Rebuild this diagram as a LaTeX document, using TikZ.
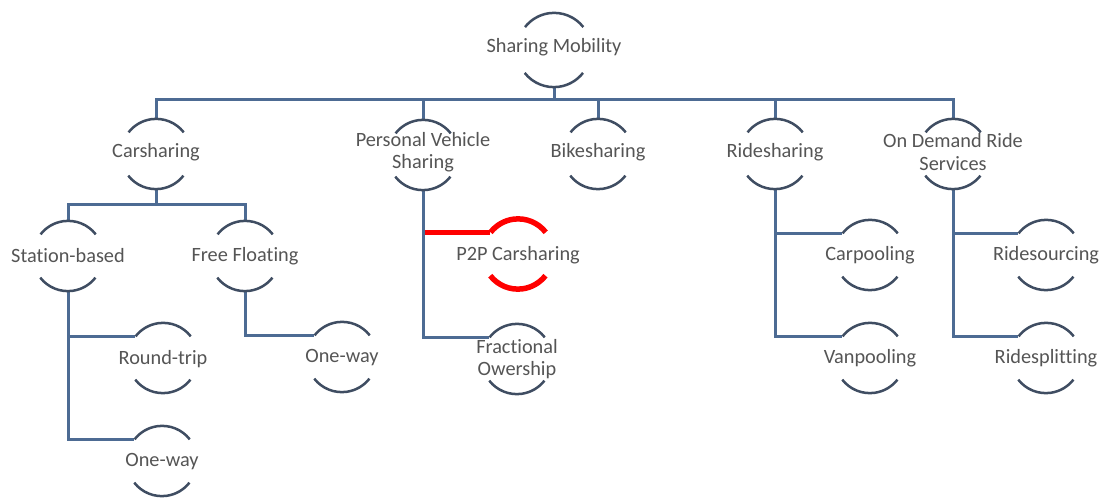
\documentclass[tikz,border=0pt]{standalone}
\usepackage{fontspec}
\setmainfont{Carlito}[RawFeature=-liga]
\definecolor{linec}{HTML}{4D6B93}
\definecolor{arcc}{HTML}{3F4D62}
\definecolor{txtc}{HTML}{555555}
\definecolor{hl}{HTML}{FF0000}
\tikzset{
  ring/.style={circle, minimum size=70pt, inner sep=0pt, draw=none},
  bigring/.style={circle, minimum size=74pt, inner sep=0pt, draw=none},
  lbl/.style={text=txtc, font=\fontsize{20.3}{22.5}\selectfont, align=center, inner sep=0pt},
  conn/.style={draw=linec, line width=3pt},
  arcline/.style={draw=arcc, line width=2.5pt},
  hlline/.style={draw=hl, line width=5.5pt},
}
\newcommand\ringarcs[3]{%
  \draw[#3] (#1.38) arc[start angle=38,end angle=142,radius=#2];
  \draw[#3] (#1.218) arc[start angle=218,end angle=322,radius=#2];
}
\begin{document}
\begin{tikzpicture}[x=1pt,y=1pt]
\useasboundingbox[fill=white] (0,0) rectangle (1102,-502);
% rings
\node[bigring] (sm) at (554,-50) {};
\node[ring] (cs) at (156,-154) {};
\node[ring] (pvs) at (423,-155) {};
\node[ring] (bs) at (598,-154) {};
\node[ring] (rs) at (775,-154) {};
\node[ring] (od) at (953,-154) {};
\node[ring] (sb) at (68,-256) {};
\node[ring] (ff) at (245,-256) {};
\node[ring] (p2p) at (518,-254) {};
\node[ring] (cp) at (870,-255) {};
\node[ring] (rsrc) at (1046,-255) {};
\node[ring] (rt) at (163,-358) {};
\node[ring] (ow1) at (162,-461) {};
\node[ring] (ow2) at (342,-357) {};
\node[ring] (fo) at (517,-359) {};
\node[ring] (vp) at (870,-358) {};
\node[ring] (rspl) at (1046,-358) {};
% labels
\node[lbl] (sm-t) at ([yshift=3pt]sm) {Sharing Mobility};
\node[lbl] (cs-t) at ([yshift=2pt]cs) {Carsharing};
\node[lbl] (pvs-t) at ([yshift=3pt]pvs) {Personal Vehicle\\Sharing};
\node[lbl] (bs-t) at ([yshift=2pt]bs) {Bikesharing};
\node[lbl] (rs-t) at ([yshift=2pt]rs) {Ridesharing};
\node[lbl] (od-t) at ([yshift=2pt]od) {On Demand\ Ride\\Services};
\node[lbl] (sb-t) at (sb) {Station-based};
\node[lbl] (ff-t) at (ff) {Free Floating};
\node[lbl] (p2p-t) at ([yshift=-1pt]p2p) {P2P Carsharing};
\node[lbl] (cp-t) at (cp) {Carpooling};
\node[lbl] (rsrc-t) at (rsrc) {Ridesourcing};
\node[lbl] (rt-t) at ([yshift=-1pt]rt) {Round-trip};
\node[lbl] (ow1-t) at ([yshift=-1pt]ow1) {One-way};
\node[lbl] (ow2-t) at ([yshift=-1pt]ow2) {One-way};
\node[lbl] (fo-t) at (fo) {Fractional\\Owership};
\node[lbl] (vp-t) at (vp) {Vanpooling};
\node[lbl] (rspl-t) at (rspl) {Ridesplitting};
% connectors
\coordinate (bus) at (0,-100);
\coordinate (bus2) at (0,-205);
\draw[conn] (cs.north) |- (bus -| od.north) -- (od.north);
\draw[conn] (sm.south) -- (sm.south |- bus);
\draw[conn] (pvs.north) -- (pvs.north |- bus);
\draw[conn] (bs.north) -- (bs.north |- bus);
\draw[conn] (rs.north) -- (rs.north |- bus);
\draw[conn] (sb.north) |- (bus2 -| ff.north) -- (ff.north);
\draw[conn] (cs.south) -- (cs.south |- bus2);
\draw[conn] (sb.south) |- (rt.142);
\draw[conn] (sb.south) |- (ow1.142);
\draw[conn] (ff.south) |- (ow2.142);
\draw[hlline] (pvs.south |- p2p.142) -- (p2p.142);
\draw[conn] (pvs.south) |- (fo.142);
\draw[conn] (rs.south) |- (cp.142);
\draw[conn] (rs.south) |- (vp.142);
\draw[conn] (od.south) |- (rsrc.142);
\draw[conn] (od.south) |- (rspl.142);
% arcs
\ringarcs{sm}{37pt}{arcline}
\foreach \n in {cs,pvs,bs,rs,od,sb,ff,cp,rsrc,rt,ow1,ow2,fo,vp,rspl}{\ringarcs{\n}{35pt}{arcline}}
\ringarcs{p2p}{35pt}{hlline}
\end{tikzpicture}
\end{document}
